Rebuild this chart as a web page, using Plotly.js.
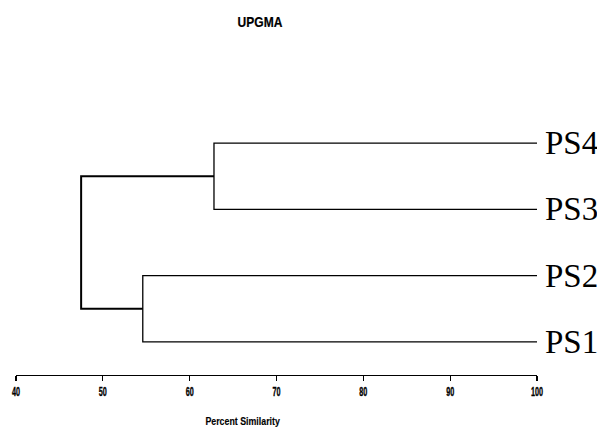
<!DOCTYPE html>
<html><head><meta charset="utf-8">
<script src="https://cdn.plot.ly/plotly-3.0.1.min.js"></script>
<style>body{margin:0;background:#fff}#c{width:597px;height:430px}</style>
</head><body><div id="c"></div>
<script>
// Leaves (bottom to top) and their vertical positions
const leaves = ["PS1", "PS2", "PS3", "PS4"];
const leafPos = [1, 2, 3, 4];
// Merge similarity levels (percent)
const mergePS1PS2 = 54.6;
const mergePS3PS4 = 62.8;
const mergeRoot = 47.5;
const leafSim = 100;
const xTicks = [40, 50, 60, 70, 80, 90, 100];

const traces = [];
function seg(xs, ys, w) {
  traces.push({x: xs, y: ys, mode: 'lines', type: 'scatter',
    line: {color: '#000', width: w}, hoverinfo: 'skip', showlegend: false});
}
const lowMid = (leafPos[0] + leafPos[1]) / 2;
const upMid = (leafPos[2] + leafPos[3]) / 2;
seg([leafSim, mergePS1PS2, mergePS1PS2, leafSim], [leafPos[0], leafPos[0], leafPos[1], leafPos[1]], 1.3);
seg([leafSim, mergePS3PS4, mergePS3PS4, leafSim], [leafPos[2], leafPos[2], leafPos[3], leafPos[3]], 1.3);
seg([mergePS1PS2, mergeRoot, mergeRoot, mergePS3PS4], [lowMid, lowMid, upMid, upMid], 2);

const sans = 'Liberation Sans, Arial, sans-serif';
const annotations = leaves.map((name, i) => ({
  x: leafSim, y: leafPos[i], xref: 'x', yref: 'y', text: name, showarrow: false,
  xanchor: 'left', yanchor: 'middle', xshift: 6,
  font: {family: 'Liberation Serif, Times New Roman, serif', size: 33, color: '#000'}
}));
annotations.push({
  x: 260/597, y: -46/275, xref: 'paper', yref: 'paper', text: 'Percent Similarity', showarrow: false,
  xanchor: 'center', yanchor: 'middle',
  font: {family: sans, size: 11.5, color: '#000', weight: 'bold'}
});

const layout = {
  width: 597, height: 430,
  margin: {l: 16, r: 60, t: 100, b: 55},
  paper_bgcolor: '#fff', plot_bgcolor: '#fff',
  title: {text: 'UPGMA', x: 260/597, xanchor: 'center', y: 1 - 22/430, yanchor: 'middle',
    font: {family: sans, size: 14, color: '#000', weight: 'bold'}},
  xaxis: {range: [40, 100], tickvals: xTicks, ticktext: xTicks.map(String),
    showgrid: false, zeroline: false, showline: true, linecolor: '#000', linewidth: 1.3,
    ticks: 'outside', ticklen: 5, tickwidth: 1.3, tickcolor: '#000',
    tickfont: {family: sans, size: 12.5, color: '#000', weight: 'bold'}},
  yaxis: {range: [0.5, 4.65], visible: false, showgrid: false, zeroline: false},
  annotations: annotations
};
// horizontal condensing (the reference uses a narrow face), keeping each text centred
function squeeze(t, f, stroke) {
  const b = t.getBBox();
  if (!b.width) return;
  const cx = b.x + b.width / 2;
  const prev = t.getAttribute('transform') || '';
  t.setAttribute('transform', prev + ` translate(${cx},0) scale(${f},1) translate(${-cx},0)`);
  if (stroke) { t.style.stroke = '#000'; t.style.strokeWidth = stroke; }
}
Plotly.newPlot('c', traces, layout, {displayModeBar: false, staticPlot: true}).then(() => {
  document.querySelectorAll('.xtick text').forEach(t => squeeze(t, 0.58, 0.35));
  document.querySelectorAll('.gtitle').forEach(t => squeeze(t, 0.86, 0.2));
  document.querySelectorAll('.annotation-text').forEach(t => {
    if (t.textContent === 'Percent Similarity') squeeze(t, 75 / t.getBBox().width, 0.15);
  });
});
</script></body></html>
